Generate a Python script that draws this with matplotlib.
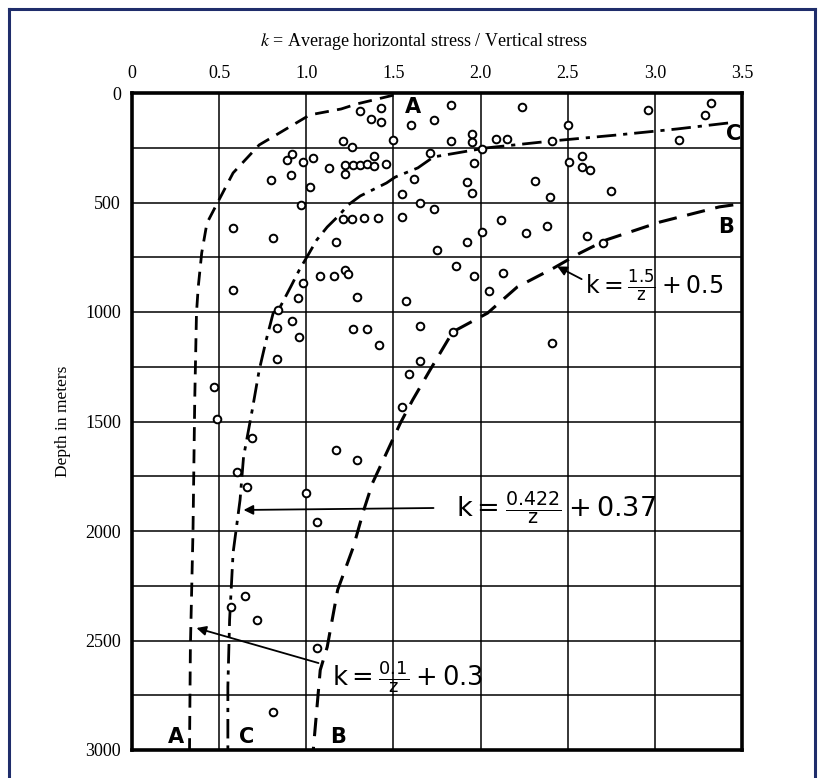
import numpy as np
import matplotlib
matplotlib.use("Agg")
import matplotlib.pyplot as plt
from matplotlib.lines import Line2D

plt.rcParams["mathtext.fontset"] = "dejavusans"

k_obs = [1.31, 1.37, 1.43, 1.43, 1.60, 1.73, 1.83, 1.50, 1.83, 1.21, 1.26,
         0.92, 0.89, 0.98, 1.04, 0.80, 0.91, 1.13, 1.22, 1.22, 1.27, 1.31,
         1.35, 1.39, 1.39, 1.46, 1.02, 1.71, 1.62, 1.55, 1.65, 1.73, 0.97,
         2.24, 2.50, 1.95, 1.95, 2.09, 2.15, 2.41, 1.96, 1.92, 1.95, 2.51,
         2.58, 2.58, 2.63, 2.31, 2.40, 2.75, 2.96, 3.32, 3.29, 3.14, 2.01,
         1.55, 2.12, 2.01, 1.92, 2.26, 2.38, 1.75, 2.61, 2.70, 1.86, 1.96,
         2.13, 2.05, 1.57, 1.65, 1.84, 2.41, 1.65, 1.59, 1.55, 0.84, 0.92,
         0.83, 0.96, 0.83, 1.27, 1.35, 1.42, 0.47, 0.49, 0.69, 0.60, 0.66,
         1.00, 1.06, 1.17, 1.29, 1.21, 1.26, 1.33, 1.41, 0.58, 0.81, 1.17,
         1.08, 1.16, 1.22, 1.24, 0.98, 0.95, 1.29, 0.58, 0.65, 0.57, 0.72,
         1.06, 0.81]
depth_obs = [82, 119, 68, 132, 146, 123, 55, 215, 219, 219, 247,
             279, 306, 315, 297, 397, 374, 342, 329, 370, 329, 329,
             324, 288, 333, 324, 429, 274, 393, 461, 502, 530, 511,
             64, 146, 187, 224, 210, 210, 219, 320, 406, 457, 315,
             288, 338, 352, 402, 475, 447, 78, 46, 100, 215, 255,
             566, 580, 635, 680, 639, 607, 717, 653, 685, 790, 836,
             822, 904, 950, 1064, 1091, 1142, 1224, 1283, 1434, 991, 1041,
             1073, 1114, 1215, 1078, 1078, 1151, 1342, 1489, 1575, 1730, 1799,
             1826, 1959, 1630, 1676, 575, 575, 571, 571, 616, 662, 680,
             836, 836, 808, 826, 868, 936, 931, 900, 2297, 2347, 2406,
             2534, 2826]

# envelope curves as drawn on the scan (k, depth)
curve_a_k = [1.50, 1.29, 1.20, 1.02, 0.83, 0.73, 0.58, 0.49, 0.43, 0.40,
             0.38, 0.37, 0.36, 0.355, 0.35, 0.335, 0.33]
curve_a_z = [10, 50, 73, 100, 190, 237, 365, 502, 594, 730,
             886, 1005, 1400, 1700, 2000, 2530, 3000]
curve_b_k = [3.45, 3.37, 3.03, 2.72, 2.57, 2.42, 2.21, 2.04, 1.84, 1.71,
             1.61, 1.54, 1.38, 1.33, 1.27, 1.18, 1.12, 1.08, 1.04]
curve_b_z = [511, 520, 589, 671, 731, 799, 886, 1005, 1091, 1265,
             1402, 1507, 1781, 1904, 2073, 2269, 2530, 2635, 3000]
curve_c_k = [3.42, 3.13, 2.78, 2.41, 2.03, 1.73, 1.64, 1.51, 1.46, 1.31,
             1.24, 1.19, 1.12, 1.06, 1.01, 0.96, 0.91, 0.85, 0.81, 0.77,
             0.73, 0.69, 0.64, 0.62, 0.58, 0.56, 0.55, 0.55]
curve_c_z = [137, 164, 192, 219, 251, 292, 342, 384, 411, 470,
             511, 557, 612, 671, 740, 808, 886, 977, 1005, 1128,
             1265, 1447, 1662, 1858, 2100, 2406, 2712, 3000]

x_ticks = [0, 0.5, 1.0, 1.5, 2.0, 2.5, 3.0, 3.5]
x_tick_labels = ["0", "0.5", "1.0", "1.5", "2.0", "2.5", "3.0", "3.5"]
y_ticks = [0, 500, 1000, 1500, 2000, 2500, 3000]

W, H = 823, 778
fig = plt.figure(figsize=(W / 100, H / 100), dpi=100)
ax = fig.add_axes([132 / W, 1 - 750 / H, 610 / W, 657 / H])

serif = ["Liberation Serif", "DejaVu Serif"]

# grid every 0.5 in k and 250 m in depth
for gx in np.arange(0.5, 3.5, 0.5):
    ax.axvline(gx, color="black", lw=1.1, zorder=1)
for gy in np.arange(250, 3000, 250):
    ax.axhline(gy, color="black", lw=1.1, zorder=1)

ax.plot(curve_a_k, curve_a_z, color="black", lw=2.0, dashes=(5, 3), zorder=2)
ax.plot(curve_b_k, curve_b_z, color="black", lw=2.2, dashes=(6, 3.5), zorder=2)
ax.plot(curve_c_k, curve_c_z, color="black", lw=2.0,
        dashes=(7, 2.5, 1.5, 2.5), zorder=2)

ax.plot(k_obs, depth_obs, "o", ms=5.5, mfc="white", mec="black", mew=1.4,
        ls="", zorder=3)

ax.set_xlim(0, 3.5)
ax.set_ylim(3000, 0)
ax.xaxis.tick_top()
ax.set_xticks(x_ticks)
ax.set_xticklabels(x_tick_labels, family=serif, fontsize=13)
ax.set_yticks(y_ticks)
ax.set_yticklabels([str(v) for v in y_ticks], family=serif, fontsize=13)
ax.tick_params(length=0, pad=8)
for s in ax.spines.values():
    s.set_linewidth(2.6)

ax.set_ylabel("Depth in meters", family=serif, fontsize=12.5, labelpad=10)
fig.text(424 / W, 1 - 42 / H,
         r"$\mathit{k}$ = Average horizontal stress / Vertical stress",
         family=serif, fontsize=13, ha="center", va="center",
         math_fontfamily="stix")

# curve letters
lab = dict(fontsize=15, color="black", ha="center", va="center", zorder=4,
           fontweight="bold")
ax.text(1.61, 64, "A", **lab)
ax.text(3.45, 185, "C", **lab)
ax.text(3.41, 612, "B", **lab)
ax.text(0.25, 2940, "A", **lab)
ax.text(0.66, 2940, "C", **lab)
ax.text(1.18, 2940, "B", **lab)

# formula labels with leader arrows
eq = dict(color="black", ha="left", va="center", zorder=4)
ax.text(2.60, 880, r"$\mathrm{k} = \frac{1.5}{\mathrm{z}} + 0.5$",
        fontsize=17, **eq)
ax.text(1.86, 1895, r"$\mathrm{k} = \frac{0.422}{\mathrm{z}} + 0.37$",
        fontsize=19.5, **eq)
ax.text(1.15, 2667, r"$\mathrm{k} = \frac{0.1}{\mathrm{z}} + 0.3$",
        fontsize=18.5, **eq)

arr = dict(arrowstyle="-|>", color="black", lw=1.3, mutation_scale=14,
           shrinkA=0, shrinkB=0)
ax.annotate("", xy=(2.44, 792), xytext=(2.58, 850), arrowprops=arr, zorder=4)
ax.annotate("", xy=(0.64, 1904), xytext=(1.73, 1895), arrowprops=arr, zorder=4)
ax.annotate("", xy=(0.37, 2443), xytext=(1.07, 2603), arrowprops=arr, zorder=4)

# navy frame around the figure
navy = "#1f2d6b"
fig.add_artist(Line2D([9 / W, 9 / W], [0, 1 - 9 / H], color=navy, lw=2.2))
fig.add_artist(Line2D([9 / W, 815 / W], [1 - 9 / H, 1 - 9 / H], color=navy, lw=2.2))
fig.add_artist(Line2D([815 / W, 815 / W], [0, 1 - 9 / H], color=navy, lw=2.2))

fig.savefig("out.png", dpi=100)
